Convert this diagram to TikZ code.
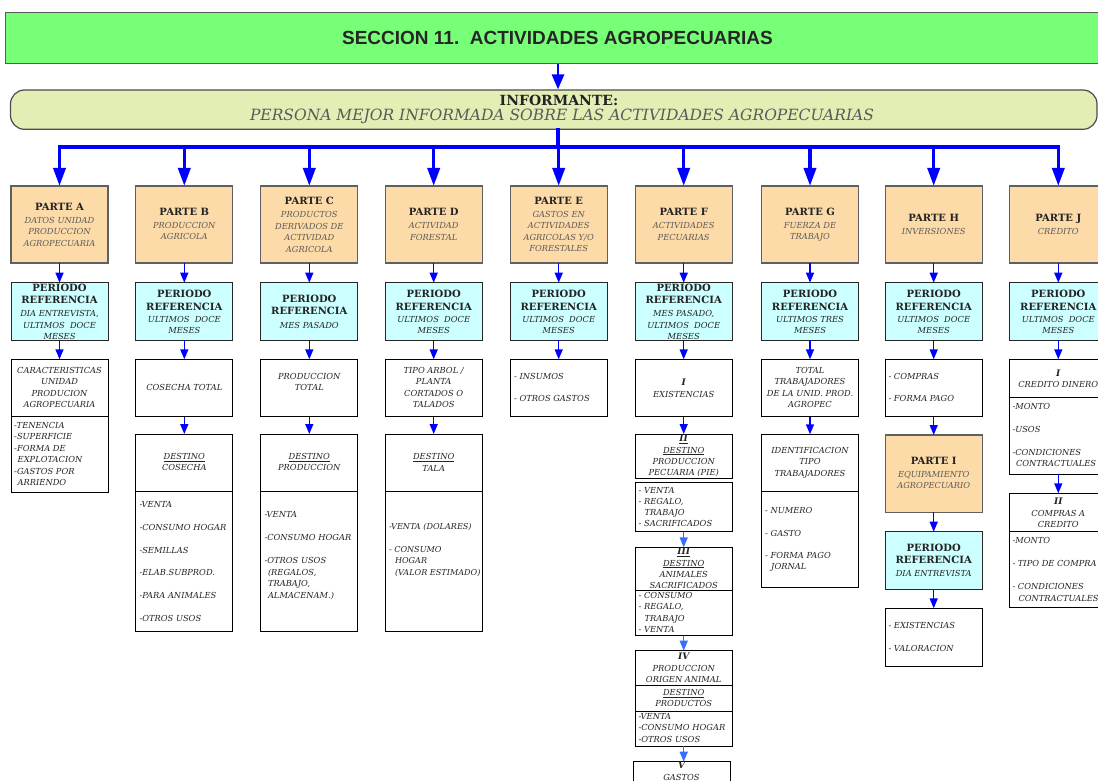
\documentclass[tikz,border=0pt]{standalone}
\usepackage{fontspec}
\setmainfont{DejaVu Serif}
\newfontfamily\titlefont{Liberation Sans}
\usetikzlibrary{arrows.meta}
\definecolor{tgreen}{RGB}{119,255,119}
\definecolor{tinf}{RGB}{227,238,181}
\definecolor{torange}{RGB}{253,219,168}
\definecolor{tcyan}{RGB}{204,255,255}
\definecolor{tblue}{RGB}{0,0,255}
\definecolor{tlblue}{RGB}{55,110,255}
\definecolor{ttext}{RGB}{35,35,35}
\definecolor{tsub}{RGB}{90,90,90}
\newcommand\pbold[1]{{\fontsize{10}{12}\selectfont\bfseries\upshape\color{ttext}#1}}
\newcommand\pbit[1]{{\fontsize{9}{11}\selectfont\bfseries\color{ttext}#1}}
\newcommand\pind{\hspace*{3.5pt}}
\newcommand\pindd{\hspace*{6pt}}
\def\xA{59.5}\def\xB{184.3}\def\xC{309.3}\def\xD{433.7}\def\xE{558.7}
\def\xF{683.7}\def\xG{810}\def\xH{933.7}\def\xJ{1058.3}
\begin{document}
\begin{tikzpicture}[x=1pt,y=-1pt,
  box/.style={draw=black, line width=0.8pt, fill=white, minimum width=97pt, inner sep=0pt, outer sep=0pt},
  partbox/.style={box, draw=gray!75!black, line width=1.3pt, fill=torange},
  perbox/.style={box, draw=black!85, line width=1pt, fill=tcyan},
  txt/.style={font=\fontsize{8.3}{11.5}\selectfont\itshape, text=ttext, align=center, inner sep=0pt},
  ltxt/.style={txt, align=left, anchor=west},
  stxt/.style={txt, text=tsub},
  arr/.style={draw=tblue, line width=1.4pt, -{Triangle[length=10pt,width=8pt]}},
  larr/.style={arr, draw=tlblue},
  bigarr/.style={draw=tblue, line width=3.5pt, -{Triangle[length=18pt,width=12pt]}},
  busline/.style={draw=tblue, line width=3.5pt, line cap=rect},
]
\useasboundingbox (0,0) rectangle (1098,781);
\clip (0,0) rectangle (1098,781);
\fill[white] (0,0) rectangle (1098,781);

% header
\node[draw=gray!70!black, line width=1pt, fill=tgreen, minimum width=1105pt, minimum height=51.3pt, inner sep=0pt,
  font=\titlefont\bfseries\fontsize{19}{22}\selectfont, text=black!85] (title) at (557.5,38.35) {SECCION 11.\ \ ACTIVIDADES AGROPECUARIAS};
\node[draw=gray!60!black, line width=1.2pt, fill=tinf, rounded corners=14pt, minimum width=1086.5pt, minimum height=39.3pt, inner sep=0pt] (inf) at (553.75,109.65) {};
\node[inner sep=0pt, font=\fontsize{14}{16}\selectfont\bfseries, text=ttext] (inf1) at (559,100) {INFORMANTE:};
\node[inner sep=0pt, font=\fontsize{15.5}{17}\selectfont\itshape, text=tsub] (inf2) at (562,116) {PERSONA MEJOR INFORMADA SOBRE LAS ACTIVIDADES AGROPECUARIAS};

\coordinate (bar) at (558,147);
\draw[draw=tblue, line width=2.7pt, -{Triangle[length=15pt,width=12pt]}] (title.south -| bar) -- (inf.north -| bar);

% part boxes
\foreach \n/\x in {A/\xA,B/\xB,C/\xC,D/\xD,E/\xE,F/\xF,G/\xG,H/\xH,J/\xJ}{
  \node[partbox, minimum height=77pt] (p\n) at (\x,224.5) {};
  \node[perbox, minimum height=57.3pt] (r\n) at (\x,311.35) {};
}
% content boxes
\node[box, minimum height=57.4pt] (a1) at (\xA,388) {};
\node[box, minimum height=76pt] (a2) at (\xA,454.7) {};
\node[box, minimum height=57.4pt] (b1) at (\xB,388) {};
\node[box, minimum height=57.7pt] (b2) at (\xB,462.85) {};
\node[box, minimum height=140pt] (b3) at (\xB,561.7) {};
\node[box, minimum height=57.4pt] (c1) at (\xC,388) {};
\node[box, minimum height=57.7pt] (c2) at (\xC,462.85) {};
\node[box, minimum height=140pt] (c3) at (\xC,561.7) {};
\node[box, minimum height=57.4pt] (d1) at (\xD,388) {};
\node[box, minimum height=57.7pt] (d2) at (\xD,462.85) {};
\node[box, minimum height=140pt] (d3) at (\xD,561.7) {};
\node[box, minimum height=57.4pt] (e1) at (\xE,388) {};
\node[box, minimum height=57.4pt] (f1) at (\xF,388) {};
\node[box, minimum height=44.3pt] (f2) at (\xF,456.15) {};
\node[box, minimum height=49.4pt] (f3) at (\xF,507) {};
\node[box, minimum height=43.4pt] (f4) at (\xF,569) {};
\node[box, minimum height=45pt] (f5) at (\xF,613.2) {};
\node[box, minimum height=34.3pt] (f6) at (\xF,667.85) {};
\node[box, minimum height=26pt] (f7) at (\xF,698) {};
\node[box, minimum height=35pt] (f8) at (\xF,728.5) {};
\node[box, minimum height=38.3pt] (f9) at (681.5,780.85) {};
\node[box, minimum height=57.4pt] (g1) at (\xG,388) {};
\node[box, minimum height=57.4pt] (g2) at (\xG,463) {};
\node[box, minimum height=95.6pt] (g3) at (\xG,539.5) {};
\node[box, minimum height=57.4pt] (h1) at (\xH,388) {};
\node[partbox, minimum height=77.3pt] (h2) at (\xH,473.65) {};
\node[perbox, minimum height=57.6pt] (h3) at (\xH,560.5) {};
\node[box, minimum height=57.7pt] (h4) at (\xH,637.15) {};
\node[box, minimum height=38.4pt] (j1) at (\xJ,378.5) {};
\node[box, minimum height=76.6pt] (j2) at (\xJ,436) {};
\node[box, minimum height=38.4pt] (j3) at (\xJ,512.5) {};
\node[box, minimum height=76pt] (j4) at (\xJ,569.7) {};

% part texts
\node[stxt] (tpA) at (\xA,224.5) {\pbold{PARTE A}\\[1.5pt]DATOS UNIDAD\\PRODUCCION\\AGROPECUARIA};
\node[stxt] (tpB) at (\xB,224) {\pbold{PARTE B}\\[1.5pt]PRODUCCION\\AGRICOLA};
\node[stxt] (tpC) at (\xC,224.7) {\pbold{PARTE C}\\[1.5pt]PRODUCTOS\\DERIVADOS DE\\ACTIVIDAD\\AGRICOLA};
\node[stxt] (tpD) at (\xD,224.5) {\pbold{PARTE D}\\[1.5pt]ACTIVIDAD\\FORESTAL};
\node[stxt] (tpE) at (\xE,224.5) {\pbold{PARTE E}\\[1.5pt]GASTOS EN\\ACTIVIDADES\\AGRICOLAS Y/O\\FORESTALES};
\node[stxt] (tpF) at (\xF,224.5) {\pbold{PARTE F}\\[1.5pt]ACTIVIDADES\\PECUARIAS};
\node[stxt] (tpG) at (\xG,224.5) {\pbold{PARTE G}\\[1.5pt]FUERZA DE\\TRABAJO};
\node[stxt] (tpH) at (\xH,224.3) {\pbold{PARTE H}\\[1.5pt]INVERSIONES};
\node[stxt] (tpJ) at (\xJ,224.3) {\pbold{PARTE J}\\[1.5pt]CREDITO};
\node[stxt] (tpI) at (\xH,473) {\pbold{PARTE I}\\[1.5pt]EQUIPAMIENTO\\AGROPECUARIO};

% periodo texts
\node[txt] (trA) at (\xA,311.7) {\pbold{PERIODO}\\[1pt]\pbold{REFERENCIA}\\[1.5pt]DIA ENTREVISTA,\\ULTIMOS~ DOCE\\MESES};
\node[txt] (trB) at (\xB,311.7) {\pbold{PERIODO}\\[1.3pt]\pbold{REFERENCIA}\\[0.5pt]ULTIMOS~ DOCE\\MESES};
\node[txt] (trC) at (\xC,311.7) {\pbold{PERIODO}\\[1pt]\pbold{REFERENCIA}\\[2pt]MES PASADO};
\node[txt] (trD) at (\xD,311.7) {\pbold{PERIODO}\\[1.3pt]\pbold{REFERENCIA}\\[0.5pt]ULTIMOS~ DOCE\\MESES};
\node[txt] (trE) at (\xE,311.7) {\pbold{PERIODO}\\[1.3pt]\pbold{REFERENCIA}\\[0.5pt]ULTIMOS~ DOCE\\MESES};
\node[txt] (trF) at (\xF,311.7) {\pbold{PERIODO}\\[1pt]\pbold{REFERENCIA}\\[1.5pt]MES PASADO,\\ULTIMOS~ DOCE\\MESES};
\node[txt] (trG) at (\xG,311.7) {\pbold{PERIODO}\\[1.3pt]\pbold{REFERENCIA}\\[0.5pt]ULTIMOS TRES\\MESES};
\node[txt] (trH) at (\xH,311.7) {\pbold{PERIODO}\\[1.3pt]\pbold{REFERENCIA}\\[0.5pt]ULTIMOS~ DOCE\\MESES};
\node[txt] (trJ) at (\xJ,311.7) {\pbold{PERIODO}\\[1.3pt]\pbold{REFERENCIA}\\[0.5pt]ULTIMOS~ DOCE\\MESES};
\node[txt] (trH2) at (\xH,560.5) {\pbold{PERIODO}\\[1pt]\pbold{REFERENCIA}\\[1.5pt]DIA ENTREVISTA};

% content texts
\node[txt] (ta1) at (\xA,387.5) {CARACTERISTICAS\\UNIDAD\\PRODUCION\\AGROPECUARIA};
\node[ltxt] (ta2) at (14,454.2) {-TENENCIA\\-SUPERFICIE\\-FORMA DE\\\pind EXPLOTACION\\-GASTOS POR\\\pind ARRIENDO};
\node[txt] (tb1) at (\xB,387.7) {COSECHA TOTAL};
\node[txt] (tb2) at (\xB,462.2) {\underline{DESTINO}\\COSECHA};
\node[ltxt] (tb3) at (139.3,561.5) {-VENTA\\[11.2pt]-CONSUMO HOGAR\\[11.2pt]-SEMILLAS\\[11.2pt]-ELAB.SUBPROD.\\[11.2pt]-PARA ANIMALES\\[11.2pt]-OTROS USOS};
\node[txt] (tc1) at (\xC,382.2) {PRODUCCION\\TOTAL};
\node[txt] (tc2) at (\xC,462.2) {\underline{DESTINO}\\PRODUCCION};
\node[ltxt] (tc3) at (264.3,555.8) {-VENTA\\[11.5pt]-CONSUMO HOGAR\\[11.5pt]-OTROS USOS\\\pind(REGALOS,\\\pind TRABAJO,\\\pind ALMACENAM.)};
\node[txt] (td1) at (\xD,387.7) {TIPO ARBOL /\\PLANTA\\CORTADOS O\\TALADOS};
\node[txt] (td2) at (\xD,462.2) {\underline{DESTINO}\\TALA};
\node[ltxt, font=\fontsize{8.1}{11.5}\selectfont\itshape] (td3) at (388.8,549.7) {-VENTA (DOLARES)\\[11.5pt]- CONSUMO\\\pindd HOGAR\\\pindd(VALOR ESTIMADO)};
\node[ltxt] (te1) at (514,387.7) {- INSUMOS\\[10.5pt]- OTROS GASTOS};
\node[txt] (tf1) at (\xF,388.3) {\pbit{I}\\EXISTENCIAS};
\node[txt, font=\fontsize{8.3}{11.1}\selectfont\itshape] (tf2) at (\xF,456) {\pbit{\underline{II}}\\\underline{DESTINO}\\PRODUCCION\\PECUARIA (PIE)};
\node[ltxt, font=\fontsize{8.3}{11.1}\selectfont\itshape] (tf3) at (638.5,506.7) {- VENTA\\- REGALO,\\\pindd TRABAJO\\- SACRIFICADOS};
\node[txt, font=\fontsize{8.3}{11.2}\selectfont\itshape] (tf4) at (\xF,568.5) {\pbit{\underline{III}}\\\underline{DESTINO}\\ANIMALES\\SACRIFICADOS};
\node[ltxt, font=\fontsize{8.3}{11.2}\selectfont\itshape] (tf5) at (638.5,612.5) {- CONSUMO\\- REGALO,\\\pindd TRABAJO\\- VENTA};
\node[txt, font=\fontsize{8.3}{11}\selectfont\itshape] (tf6) at (\xF,667.7) {\pbit{IV}\\[1.5pt]PRODUCCION\\ORIGEN ANIMAL};
\node[txt, font=\fontsize{8.3}{10.6}\selectfont\itshape] (tf7) at (\xF,698) {\underline{DESTINO}\\PRODUCTOS};
\node[ltxt, font=\fontsize{8.3}{11.3}\selectfont\itshape] (tf8) at (638.3,728) {-VENTA\\-CONSUMO HOGAR\\-OTROS USOS};
\node[txt] (tf9) at (681.5,771.3) {\pbit{V}\\GASTOS};
\node[txt] (tg1) at (\xG,387.5) {TOTAL\\TRABAJADORES\\DE LA UNID. PROD.\\AGROPEC};
\node[txt] (tg2) at (\xG,462.7) {IDENTIFICACION\\TIPO\\TRABAJADORES};
\node[ltxt] (tg3) at (765,539.2) {- NUMERO\\[11.5pt]- GASTO\\[10.5pt]- FORMA PAGO\\\pindd JORNAL};
\node[ltxt] (th1) at (888.3,387.5) {- COMPRAS\\[10.2pt]- FORMA PAGO};
\node[ltxt] (th4) at (888.3,637) {- EXISTENCIAS\\[11pt]- VALORACION};
\node[txt] (tj1) at (\xJ,378.7) {\pbit{I}\\CREDITO DINERO};
\node[ltxt] (tj2) at (1012.3,435.2) {-MONTO\\[11.5pt]-USOS\\[11.5pt]-CONDICIONES\\\pind CONTRACTUALES};
\node[txt] (tj3) at (\xJ,512.8) {\pbit{II}\\COMPRAS A\\CREDITO};
\node[ltxt] (tj4) at (1012.3,569.35) {-MONTO\\[11.5pt]- TIPO DE COMPRA\\[11.5pt]- CONDICIONES\\\pindd CONTRACTUALES};

% bus
\draw[busline] (inf.south -| bar) -- (bar);
\draw[busline] (pA.north |- bar) -- (pJ.north |- bar);
\foreach \n in {A,B,C,D,E,F,G,H,J}{
  \draw[bigarr] (p\n.north |- bar) -- (p\n.north);
  \draw[arr] (p\n) -- (r\n);
}
\draw[arr] (rA) -- (a1);
\draw[arr] (rB) -- (b1); \draw[arr] (b1) -- (b2);
\draw[arr] (rC) -- (c1); \draw[arr] (c1) -- (c2);
\draw[arr] (rD) -- (d1); \draw[arr] (d1) -- (d2);
\draw[arr] (rE) -- (e1);
\draw[arr] (rF) -- (f1); \draw[arr] (f1) -- (f2);
\draw[larr] (f3) -- (f4);
\draw[larr] (f5) -- (f6);
\draw[larr] (f8.south) -- (f8.south |- f9.north);
\draw[arr] (rG) -- (g1); \draw[arr] (g1) -- (g2);
\draw[arr] (rH) -- (h1); \draw[arr] (h1) -- (h2); \draw[arr] (h2) -- (h3); \draw[arr] (h3) -- (h4);
\draw[arr] (rJ) -- (j1); \draw[arr] (j2) -- (j3);
\end{tikzpicture}
\end{document}
